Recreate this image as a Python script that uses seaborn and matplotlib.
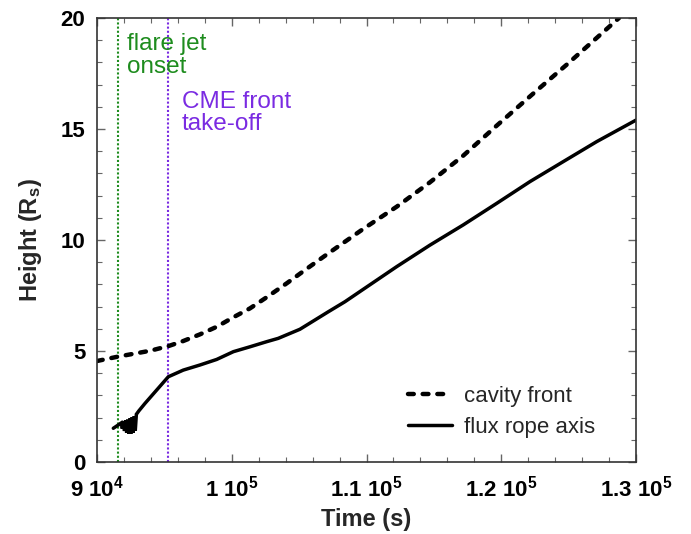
import matplotlib
matplotlib.use("Agg")
import matplotlib.pyplot as plt
import seaborn as sns
import pandas as pd
from matplotlib.ticker import MultipleLocator, FixedLocator

# ---- data ----
cavity_time = [90000, 91580, 93930, 95290, 96400, 97640, 98880, 100120, 101350,
               102590, 104080, 105600, 107170, 109760, 112240, 114710, 117180,
               119660, 122380, 124860, 128740]
cavity_height = [4.55, 4.75, 5.01, 5.22, 5.45, 5.75, 6.09, 6.52, 6.92,
                 7.42, 8.05, 8.72, 9.40, 10.5, 11.5, 12.6, 13.8,
                 15.15, 16.6, 17.9, 20.0]

rope_time = [91210, 91580, 91800, 91880, 91960, 92040, 92120, 92200, 92280, 92360,
             92440, 92520, 92600, 92680, 92760, 92840, 92920, 93100, 93560, 95290,
             96400, 97640, 98880, 100120, 101350, 102590, 103450, 105060, 107170,
             108400, 109760, 112240, 114710, 117180, 119660, 122130, 124600, 127080,
             130000]
rope_height = [1.52, 1.67, 1.76, 1.50, 1.82, 1.40, 1.87, 1.32, 1.91, 1.28,
               1.96, 1.28, 2.01, 1.32, 2.06, 1.42, 2.15, 2.30, 2.64, 3.84,
               4.14, 4.37, 4.62, 4.97, 5.19, 5.42, 5.57, 5.98, 6.77,
               7.22, 7.78, 8.80, 9.77, 10.68, 11.65, 12.63, 13.53, 14.43,
               15.40]

flare_onset = 91580
cme_takeoff = 95290
xtick_vals = [90000, 100000, 110000, 120000, 130000]
xtick_labels = [r"$\mathbf{9\ 10^{4}}$", r"$\mathbf{1\ 10^{5}}$", r"$\mathbf{1.1\ 10^{5}}$",
                r"$\mathbf{1.2\ 10^{5}}$", r"$\mathbf{1.3\ 10^{5}}$"]
ytick_vals = [0, 5, 10, 15, 20]

GREEN = "#1e8c1e"
PURPLE = "#7a2be2"

sns.set_style("ticks")
plt.rcParams['font.family'] = ['Liberation Sans', 'DejaVu Sans']
plt.rcParams['mathtext.fontset'] = 'custom'
plt.rcParams['mathtext.rm'] = 'Liberation Sans'
plt.rcParams['mathtext.bf'] = 'Liberation Sans:bold'
plt.rcParams['mathtext.it'] = 'Liberation Sans:italic'

fig = plt.figure(figsize=(6.91, 5.34), dpi=100)
ax = fig.add_axes([0.1404, 0.1348, 0.7800, 0.8315])

cav = pd.DataFrame({"t": cavity_time, "h": cavity_height})
rope = pd.DataFrame({"t": rope_time, "h": rope_height})

sns.lineplot(data=cav, x="t", y="h", ax=ax, color="black", lw=3.2,
             estimator=None, sort=False, label="cavity front")
sns.lineplot(data=rope, x="t", y="h", ax=ax, color="black", lw=2.5,
             estimator=None, sort=False, label="flux rope axis")
ax.lines[0].set_dashes((1.3, 2.0))
ax.lines[0].set_dash_capstyle("round")
ax.lines[0].set_dash_joinstyle("round")
ax.lines[1].set_solid_joinstyle("miter")

ax.axvline(flare_onset, color=GREEN, lw=1.5, ls=(0, (1.0, 1.0)), zorder=1)
ax.axvline(cme_takeoff, color=PURPLE, lw=1.5, ls=(0, (1.0, 1.0)), zorder=1)

ax.text(92230, 18.56, "flare jet", color=GREEN, fontsize=17.5, va="baseline", ha="left")
ax.text(92230, 17.52, "onset", color=GREEN, fontsize=17.5, va="baseline", ha="left")
ax.text(96290, 15.93, "CME front", color=PURPLE, fontsize=17.5, va="baseline", ha="left")
ax.text(96290, 14.95, "take-off", color=PURPLE, fontsize=17.5, va="baseline", ha="left")

ax.set_xlim(90000, 130000)
ax.set_ylim(0, 20)
ax.xaxis.set_major_locator(FixedLocator(xtick_vals))
ax.set_xticklabels(xtick_labels)
ax.xaxis.set_minor_locator(MultipleLocator(2000))
ax.yaxis.set_major_locator(FixedLocator(ytick_vals))
ax.set_yticklabels([str(v) for v in ytick_vals])
ax.yaxis.set_minor_locator(MultipleLocator(1))
ax.tick_params(which="both", direction="in", top=True, right=True, colors="#666666",
               labelcolor="black")
ax.tick_params(which="major", length=6, width=1.0, labelsize=16)
ax.tick_params(axis="y", which="major", pad=8.5)
ax.tick_params(axis="x", which="major", pad=9.5)
ax.tick_params(which="minor", length=3.5, width=0.8)
for lab in ax.get_yticklabels():
    lab.set_fontweight("bold")
for s in ax.spines.values():
    s.set_linewidth(1.2)
    s.set_color("#333333")

ax.set_xlabel("Time (s)", fontsize=17, fontweight="bold", labelpad=5)
ax.set_ylabel(r"Height (R$_\mathbf{s}$)", fontsize=17, fontweight="bold", labelpad=12)

leg = ax.legend(loc="lower left", frameon=False, fontsize=16, handlelength=2.0,
                bbox_to_anchor=(0.577, 0.055), borderpad=0, borderaxespad=0,
                labelspacing=0.45, handletextpad=0.5)

fig.savefig("out.png", dpi=100)
